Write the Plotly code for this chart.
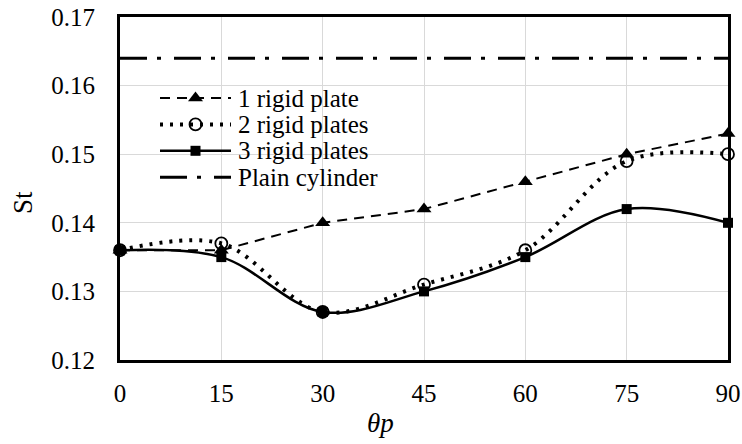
import plotly.graph_objects as go

# Plate angle (degrees) and Strouhal numbers
theta_p = [0, 15, 30, 45, 60, 75, 90]
st_1_plate = [0.136, 0.136, 0.140, 0.142, 0.146, 0.150, 0.153]
st_2_plates = [0.136, 0.137, 0.127, 0.131, 0.136, 0.149, 0.150]
st_3_plates = [0.136, 0.135, 0.127, 0.130, 0.135, 0.142, 0.140]
st_plain = 0.164

series_names = ["1 rigid plate", "2 rigid plates", "3 rigid plates", "Plain cylinder"]
x_ticks = [0, 15, 30, 45, 60, 75, 90]
y_ticks = [0.12, 0.13, 0.14, 0.15, 0.16, 0.17]

SERIF = "'Liberation Serif', 'Times New Roman', Times, 'DejaVu Serif', serif"

# Figure geometry (px)
W, H = 742, 444
M_L, M_R, M_T, M_B = 120, 14, 17, 84
PLOT_W, PLOT_H = W - M_L - M_R, H - M_T - M_B

# Line / marker styles per series
styles = [
    dict(line=dict(color="black", width=2, dash="10px,7px"),
         marker=dict(symbol="triangle-up", size=13, color="black"), mode="lines+markers"),
    dict(line=dict(color="black", width=4, dash="3px,7px", shape="spline", smoothing=1),
         marker=dict(symbol="circle-open", size=12, color="black", line=dict(width=1.8)),
         mode="lines+markers"),
    dict(line=dict(color="black", width=2.5, shape="spline", smoothing=1),
         marker=dict(symbol="square", size=10, color="black"), mode="lines+markers"),
    dict(line=dict(color="black", width=3, dash="27px,10px,4px,13px"), mode="lines"),
]

fig = go.Figure()

series_y = [st_1_plate, st_2_plates, st_3_plates]
for name, ys, st in zip(series_names[:3], series_y, styles[:3]):
    fig.add_trace(go.Scatter(x=theta_p, y=ys, name=name, cliponaxis=False,
                             showlegend=False, **st))

fig.add_trace(go.Scatter(
    x=[theta_p[0], theta_p[-1]], y=[st_plain, st_plain], name=series_names[3],
    cliponaxis=False, showlegend=False, **styles[3],
))

# Legend key drawn on an overlay axis spanning the plot area (0..1 in both directions)
def px_x(px):
    return (px - M_L) / PLOT_W

def px_y(py):
    return 1 - (py - M_T) / PLOT_H

KEY_X0, KEY_X1, TEXT_X = px_x(160), px_x(231), px_x(236)
ROW0, ROW_STEP = 98, 26.4

annotations = []
for i, (name, st) in enumerate(zip(series_names, styles)):
    yk = px_y(ROW0 + i * ROW_STEP)
    key_line = dict(st["line"])
    key_line.pop("shape", None)
    key_line.pop("smoothing", None)
    fig.add_trace(go.Scatter(
        x=[KEY_X0, KEY_X1], y=[yk, yk], xaxis="x2", yaxis="y2", mode="lines",
        line=key_line, showlegend=False, hoverinfo="skip", cliponaxis=False,
    ))
    if "marker" in st:
        fig.add_trace(go.Scatter(
            x=[(KEY_X0 + KEY_X1) / 2], y=[yk], xaxis="x2", yaxis="y2", mode="markers",
            marker=st["marker"], showlegend=False, hoverinfo="skip", cliponaxis=False,
        ))
    annotations.append(dict(
        x=TEXT_X, y=yk, xref="x2", yref="y2", text=name, showarrow=False,
        xanchor="left", yanchor="middle", font=dict(family=SERIF, size=25, color="black"),
    ))

# Axis titles
annotations.append(dict(
    x=px_x(380), y=px_y(423), xref="paper", yref="paper", text="<i>θp</i>",
    showarrow=False, xanchor="center", yanchor="middle",
    font=dict(family=SERIF, size=27, color="black"),
))
annotations.append(dict(
    x=px_x(23), y=px_y(203), xref="paper", yref="paper", text="St", textangle=-90,
    showarrow=False, xanchor="center", yanchor="middle",
    font=dict(family=SERIF, size=27, color="black"),
))

fig.update_layout(
    width=W, height=H,
    margin=dict(l=M_L, r=M_R, t=M_T, b=M_B, autoexpand=False),
    paper_bgcolor="white", plot_bgcolor="white",
    font=dict(family=SERIF, color="black", size=18),
    showlegend=False,
    annotations=annotations,
    xaxis=dict(
        range=[0, 90], tickvals=x_ticks, ticktext=[str(v) for v in x_ticks],
        showgrid=True, gridcolor="#d9d9d9", gridwidth=1,
        showline=True, linecolor="black", linewidth=3, mirror=True,
        ticks="", zeroline=False, ticklabelstandoff=9,
        automargin=False, ticklabeloverflow="allow",
        tickfont=dict(family=SERIF, size=25),
    ),
    yaxis=dict(
        range=[0.12, 0.17], tickvals=y_ticks, tickformat=".2f",
        showgrid=True, gridcolor="#d9d9d9", gridwidth=1,
        showline=True, linecolor="black", linewidth=3, mirror=True,
        ticks="", zeroline=False, ticklabelstandoff=17,
        automargin=False, ticklabeloverflow="allow",
        tickfont=dict(family=SERIF, size=25),
    ),
    xaxis2=dict(overlaying="x", range=[0, 1], visible=False, fixedrange=True),
    yaxis2=dict(overlaying="y", range=[0, 1], visible=False, fixedrange=True),
)

fig.write_html("out.html")
